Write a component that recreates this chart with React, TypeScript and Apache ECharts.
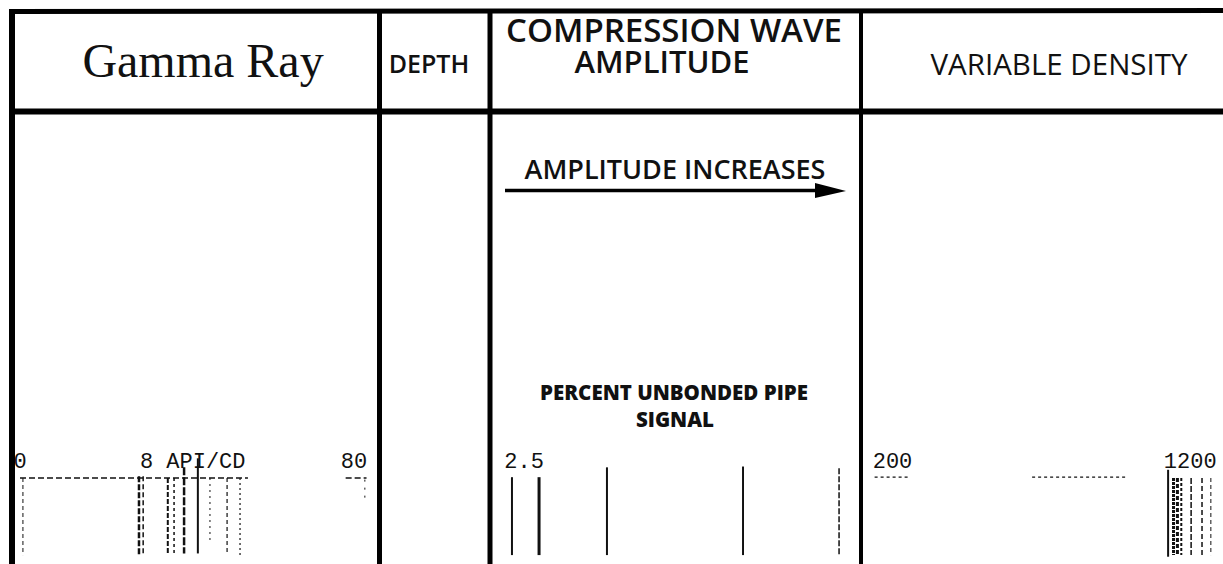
import React, { useEffect, useRef } from "react";
import * as echarts from "echarts";

// ---- header / panel texts ----
const trackTitles = ["Gamma Ray", "DEPTH", "COMPRESSION WAVE", "AMPLITUDE", "VARIABLE DENSITY"];
const bodyNotes = ["AMPLITUDE INCREASES", "PERCENT UNBONDED PIPE", "SIGNAL"];

// ---- Gamma Ray track scale ----
const gammaTicks = [0, 80];
const gammaUnit = "8 API/CD";
const gammaTraceValues = [0.7, 28.5, 29.5, 35.4, 36.9, 39.3, 42.6, 45.5, 49.6, 52.7, 82.6];
const gammaTraceTop = [0, -2, -2, 0, 0, -13, -24, 0, 0, 0, 2];
const gammaTraceBottom = [94, 94, 94, 94, 94, 92, 92, 76, 94, 94, 27];
const gammaScaleSegments = [[0, 54.6], [78, 83]];

// ---- Compression wave amplitude track ----
const cwTicks = [2.5];
const cwTraceValues = [2.593, 2.384, 1.86, 0.81, 0.069];
const cwTraceTop = [-1, -1, -13, -14, -12];
const cwTraceBottom = [94, 94, 94, 94, 94];

// ---- Variable density track ----
const vdlTicks = [200, 1200];
const vdlTraceValues = [1125.7, 1143.9, 1157, 1170, 1203, 1239.6, 1269.3];
const vdlTraceTop = [-10, 0, 0, 0, 0, 0, 0];
const vdlTraceBottom = [96, 94, 94, 94, 94, 94, 94];
const vdlScaleSegments = [[140, 256], [669, 982]];

// ---- styles (kept apart from the data) ----
const gammaStyles: [number, any][] = [
  [1, [4, 3]], [2.5, [6, 2]], [1.5, [5, 3]], [2, [5, 2]], [1.5, [3, 3]], [2.5, [8, 2]],
  [2, "solid"], [1, [2, 4]], [1.2, [4, 3]], [1.2, [2, 3]], [1, [2, 6]],
];
const cwStyles: [number, any][] = [[2, "solid"], [3, "solid"], [2, "solid"], [2, "solid"], [1.5, [6, 2]]];
const vdlStyles: [number, any][] = [
  [2, "solid"], [3, [3, 1]], [3, [4, 2]], [2, [3, 2]], [1.5, [6, 2]], [1.5, [5, 3]], [1, [4, 3]],
];

const INK = "#111";
const MONO = "Liberation Mono";
const SANS = "Open Sans";

function traces(grid: number, values: number[], tops: number[], bottoms: number[], styles: [number, any][]) {
  return values.map((v, i) => ({
    type: "line",
    xAxisIndex: grid,
    yAxisIndex: grid,
    data: [[v, tops[i]], [v, bottoms[i]]],
    symbol: "none",
    clip: false,
    silent: true,
    lineStyle: { color: INK, width: styles[i][0], type: styles[i][1] },
  }));
}

function hSegments(grid: number, segs: number[][], depth: number, width: number, type: any) {
  return segs.map((s) => ({
    type: "line",
    xAxisIndex: grid,
    yAxisIndex: grid,
    data: [[s[0], depth], [s[1], depth]],
    symbol: "none",
    clip: false,
    silent: true,
    lineStyle: { color: INK, width, type },
  }));
}

const labelStyle = { fontFamily: MONO, fontSize: 22, color: INK };

function txt(text: string, x: number, y: number, fontSize: number, fontFamily: string, fontWeight: any = "normal") {
  return {
    type: "text",
    x,
    y,
    z: 50,
    style: {
      text, fontSize, fontFamily, fontWeight, lineHeight: fontSize,
      fill: INK, align: "center", verticalAlign: "middle",
    },
  };
}

function ln(x1: number, y1: number, x2: number, y2: number, w: number) {
  return { type: "line", z: 100, shape: { x1, y1, x2, y2 }, style: { stroke: "#000", lineWidth: w } };
}

const hiddenAxisParts = { axisLine: { show: false }, axisTick: { show: false }, splitLine: { show: false } };

export default function App() {
  const ref = useRef<HTMLDivElement>(null);
  useEffect(() => {
    if (!ref.current) return;
    const chart = echarts.init(ref.current, undefined, { renderer: "svg" });
    const yAx = (g: number) => ({ type: "value", gridIndex: g, min: 0, max: 100, inverse: true, show: false });
    const option: any = {
      animation: false,
      backgroundColor: "#fff",
      grid: [
        { left: 20, top: 478, width: 367.4, height: 82 },
        { left: 498.1, top: 478, width: 349.9, height: 82 },
        { left: 862.7, top: 478, width: 363.6, height: 82 },
      ],
      xAxis: [
        {
          type: "value", gridIndex: 0, min: 0, max: 88, interval: 80, position: "top",
          ...hiddenAxisParts,
          axisLabel: { ...labelStyle, margin: 5, showMaxLabel: false, formatter: (v: number) => (gammaTicks.includes(v) ? String(v) : "") },
          name: gammaUnit, nameLocation: "middle", nameGap: 5, nameMoveOverlap: false,
          nameTextStyle: { ...labelStyle, padding: [0, 22, 0, 0] },
        },
        {
          type: "value", gridIndex: 1, min: 0, max: 2.7, interval: 2.5, inverse: true, position: "top",
          ...hiddenAxisParts,
          axisLabel: { ...labelStyle, margin: 5, formatter: (v: number) => (cwTicks.includes(v) ? String(v) : "") },
        },
        {
          type: "value", gridIndex: 2, min: 100, max: 1300, interval: 100, position: "top",
          ...hiddenAxisParts,
          axisLabel: { ...labelStyle, margin: 5, formatter: (v: number) => (vdlTicks.includes(v) ? String(v) : "") },
        },
      ],
      yAxis: [yAx(0), yAx(1), yAx(2)],
      series: [
        ...traces(0, gammaTraceValues, gammaTraceTop, gammaTraceBottom, gammaStyles),
        ...hSegments(0, gammaScaleSegments, 0, 1.5, [6, 3]),
        ...traces(1, cwTraceValues, cwTraceTop, cwTraceBottom, cwStyles),
        ...traces(2, vdlTraceValues, vdlTraceTop, vdlTraceBottom, vdlStyles),
        ...hSegments(2, vdlScaleSegments, -1, 1.2, [3, 3]),
      ],
      graphic: [
        // frame
        ln(9, 11.5, 1223, 10.5, 5),
        ln(12, 9, 12, 564, 6),
        ln(9, 111.5, 1223, 111.5, 6),
        ln(379.5, 9, 379.5, 564, 5),
        ln(490, 9, 490, 564, 5),
        ln(861, 9, 861, 564, 4),
        // header titles
        txt(trackTitles[0], 203, 60, 48, "Liberation Serif"),
        txt(trackTitles[1], 429, 63, 25, SANS, 600),
        txt(trackTitles[2], 674, 29, 33, SANS, 600),
        txt(trackTitles[3], 662, 61, 31, SANS, 600),
        txt(trackTitles[4], 1059, 63, 29.5, SANS, 400),
        // body notes
        txt(bodyNotes[0], 675, 168, 27, SANS, 600),
        ln(505, 190.5, 818, 190.5, 3.5),
        { type: "polygon", z: 100, shape: { points: [[815, 183], [846, 191], [815, 198]] }, style: { fill: "#000" } },
        txt(bodyNotes[1], 674, 392, 20.5, SANS, 800),
        txt(bodyNotes[2], 675, 419, 20.5, SANS, 800),
      ],
    };
    chart.setOption(option);
    return () => chart.dispose();
  }, []);
  return (
    <div
      ref={ref}
      style={{ position: "fixed", left: 0, top: 0, width: 1223, height: 564, background: "#fff" }}
    />
  );
}
